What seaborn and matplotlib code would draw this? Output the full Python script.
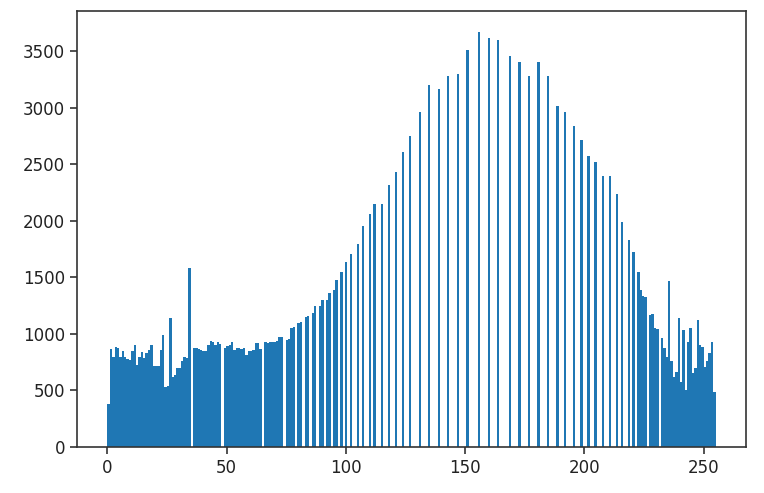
import numpy as np
import matplotlib
matplotlib.use("Agg")
import matplotlib.pyplot as plt
import seaborn as sns

# pixel counts per grey level
low_counts = [381, 866, 800, 889, 880, 800, 850, 800, 780, 771,
              850, 904, 727, 800, 840, 790, 830, 860, 900, 720,
              718, 720, 860, 992, 534, 540, 1140, 623, 640, 697,
              700, 760, 800, 790, 1583, 0, 877, 880, 870, 860,
              850, 845, 900, 935, 930, 905, 925, 910, 0, 880,
              890, 905, 930, 860, 880, 877, 870, 880, 815, 850,
              850, 860, 921, 921]
midlow_counts = [870, 0, 925, 920, 930, 925,
                 930, 940, 977, 975, 0, 948, 960, 1050, 1060, 0,
                 1100, 1110, 0, 1150, 1160, 0, 1190, 1245, 0, 1250,
                 1300, 0, 1300, 1365, 0, 1390, 1480, 0, 1545, 0,
                 1633, 0, 1707, 0, 0, 1796, 0, 1955, 0, 0,
                 2062, 0, 2150, 0, 0, 2150, 0, 0, 2315, 0,
                 0, 2434, 0, 0, 2611, 0, 0, 2750]
midhigh_counts = [0, 0, 0, 2960, 0, 0, 0, 3200, 0, 0, 0, 3170,
                  0, 0, 0, 3280, 0, 0, 0, 3300, 0, 0, 0, 3513,
                  0, 0, 0, 0, 3674, 0, 0, 0, 3621, 0, 0, 0,
                  3600, 0, 0, 0, 0, 3459, 0, 0, 0, 3408, 0, 0,
                  0, 3281, 0, 0, 0, 3405, 0, 0, 0, 3281, 0, 0, 0, 3021, 0, 0]
high_counts = [2962, 0, 0, 0, 2838, 0, 0, 2714, 0, 0,
               2578, 0, 0, 2519, 0, 0, 2401, 0, 0, 2401,
               0, 0, 2242, 0, 1991, 0, 0, 1834, 0, 1722,
               0, 1544, 1391, 1340, 1330, 0, 1170, 1176, 1052, 1043, 0,
               963, 874, 800, 1473, 760, 623, 667, 1140, 579, 1037,
               505, 933, 1052, 653, 700, 1125, 900, 889, 712, 760,
               830, 933, 490]

counts = low_counts + midlow_counts + midhigh_counts + high_counts
levels = np.arange(len(counts))

fig, ax = plt.subplots(figsize=(7.64, 4.93), dpi=100)
fig.subplots_adjust(left=0.1008, right=0.9764, top=0.9777, bottom=0.0933)

sns.histplot(x=levels, weights=counts, bins=256, binrange=(0, 255),
             color="#1f77b4", alpha=1, linewidth=0, ax=ax)

ax.set_xlabel("")
ax.set_ylabel("")
ax.set_xticks([0, 50, 100, 150, 200, 250])
ax.set_yticks([0, 500, 1000, 1500, 2000, 2500, 3000, 3500])
ax.tick_params(labelsize=12, width=1.1, length=5, colors="#222222")
for s in ax.spines.values():
    s.set_linewidth(1.2)
    s.set_color("#333333")

fig.savefig("out.png", dpi=100)
